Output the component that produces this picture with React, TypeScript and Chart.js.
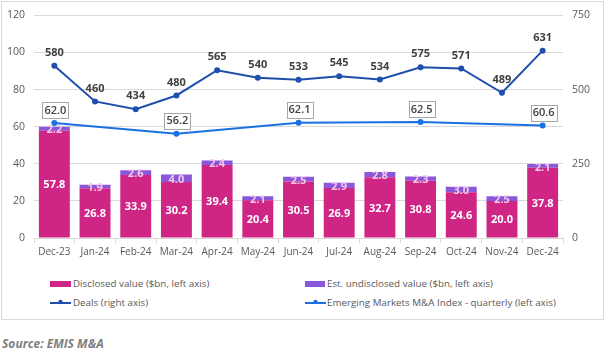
import React, { useEffect, useRef } from "react";
import { Chart, registerables } from "chart.js";

Chart.register(...registerables);

const months = ["Dec-23", "Jan-24", "Feb-24", "Mar-24", "Apr-24", "May-24", "Jun-24", "Jul-24", "Aug-24", "Sep-24", "Oct-24", "Nov-24", "Dec-24"];
const disclosed = [57.8, 26.8, 33.9, 30.2, 39.4, 20.4, 30.5, 26.9, 32.7, 30.8, 24.6, 20.0, 37.8];
const undisclosed = [2.2, 1.9, 2.6, 4.0, 2.4, 2.1, 2.5, 2.9, 2.8, 2.3, 3.0, 2.5, 2.1];
const deals = [580, 460, 434, 480, 565, 540, 533, 545, 534, 575, 571, 489, 631];
const emIndex = [62.0, null, null, 56.2, null, null, 62.1, null, null, 62.5, null, null, 60.6];
const leftTicks = [0, 20, 40, 60, 80, 100, 120];
const rightTicks = [0, 250, 500, 750];

const FONT = "'Open Sans', 'Noto Sans', sans-serif";
const C_DISC = "#cf2585";
const C_UND = "#8a56da";
const C_DEALS = "#1f4fad";
const C_IDX = "#1b70e4";

const labelPlugin = {
  id: "labels",
  afterDatasetsDraw(chart: any) {
    const ctx = chart.ctx;
    ctx.save();
    ctx.textAlign = "center";
    ctx.textBaseline = "middle";
    chart.data.datasets.forEach((ds: any, di: number) => {
      const meta = chart.getDatasetMeta(di);
      meta.data.forEach((el: any, i: number) => {
        const v = ds.data[i];
        if (v === null || v === undefined) return;
        const txt = ds.key === "deals" ? String(v) : v.toFixed(1);
        if (ds.key === "disc") {
          ctx.font = `bold 11px ${FONT}`;
          ctx.fillStyle = "#ffffff";
          ctx.fillText(txt, el.x, (el.y + el.base) / 2 + 1);
        } else if (ds.key === "und") {
          ctx.font = `bold 11px ${FONT}`;
          ctx.fillStyle = "#f6c8ea";
          ctx.fillText(txt, el.x, (el.y + el.base) / 2 + 1.5);
        } else if (ds.key === "deals") {
          ctx.font = `bold 11px ${FONT}`;
          ctx.fillStyle = "#404040";
          ctx.fillText(txt, el.x, el.y - 13);
        } else if (ds.key === "idx") {
          ctx.font = `600 11px ${FONT}`;
          const w = 26, h = 16;
          const cx = el.x + 1, cy = el.y - 13;
          ctx.fillStyle = "#ffffff";
          ctx.fillRect(cx - w / 2, cy - h / 2, w, h);
          ctx.strokeStyle = "#a6a6a6";
          ctx.lineWidth = 1;
          ctx.strokeRect(Math.round(cx - w / 2) + 0.5, Math.round(cy - h / 2) + 0.5, w, h);
          ctx.fillStyle = "#404040";
          ctx.fillText(txt, cx, cy + 0.5);
        }
      });
    });
    ctx.restore();
  },
};

function LineIcon({ color }: { color: string }) {
  return (
    <svg width="21" height="8" style={{ display: "block" }}>
      <line x1="0" y1="5" x2="21" y2="5" stroke={color} strokeWidth="2" />
      <circle cx="10.5" cy="4" r="2.2" fill={color} />
    </svg>
  );
}

export default function App() {
  const ref = useRef<HTMLCanvasElement>(null);
  useEffect(() => {
    const chart = new Chart(ref.current!, {
      type: "bar",
      data: {
        labels: months,
        datasets: [
          {
            key: "deals",
            type: "line",
            label: "Deals (right axis)",
            data: deals,
            yAxisID: "y1",
            borderColor: C_DEALS,
            backgroundColor: C_DEALS,
            borderWidth: 2,
            pointRadius: 3,
            pointBorderWidth: 0,
            tension: 0,
            order: 0,
          } as any,
          {
            key: "idx",
            type: "line",
            label: "Emerging Markets M&A Index - quarterly (left axis)",
            data: emIndex,
            yAxisID: "y",
            stack: "idx",
            borderColor: C_IDX,
            backgroundColor: C_IDX,
            borderWidth: 2,
            pointRadius: 3,
            pointBorderWidth: 0,
            spanGaps: true,
            tension: 0,
            order: 1,
          } as any,
          {
            key: "disc",
            label: "Disclosed value ($bn, left axis)",
            data: disclosed,
            yAxisID: "y",
            stack: "bars",
            backgroundColor: C_DISC,
            categoryPercentage: 1,
            barPercentage: 0.76,
            order: 2,
          } as any,
          {
            key: "und",
            label: "Est. undisclosed value ($bn, left axis)",
            data: undisclosed,
            yAxisID: "y",
            stack: "bars",
            backgroundColor: C_UND,
            categoryPercentage: 1,
            barPercentage: 0.76,
            order: 3,
          } as any,
        ],
      },
      options: {
        animation: false,
        responsive: false,
        maintainAspectRatio: false,
        layout: { padding: { top: 15, left: 0, right: 0, bottom: 0 } },
        plugins: { legend: { display: false }, tooltip: { enabled: false } },
        scales: {
          x: {
            stacked: true,
            offset: true,
            grid: { offset: true, drawOnChartArea: false, drawTicks: true, tickLength: 5, color: "#d9d9d9" },
            border: { display: true, color: "#d9d9d9" },
            ticks: { color: "#595959", font: { family: FONT, size: 10 }, padding: 3, maxRotation: 0, autoSkip: false },
            afterFit: (s: any) => { s.height = 32; },
          },
          y: {
            stacked: true,
            position: "left",
            min: 0,
            max: 120,
            afterBuildTicks: (s: any) => { s.ticks = leftTicks.map((v) => ({ value: v })); },
            grid: { color: "#d9d9d9", drawTicks: false },
            border: { display: false },
            ticks: { color: "#595959", font: { family: FONT, size: 10.5 }, padding: 9 },
            afterFit: (s: any) => { s.width = 34; },
          },
          y1: {
            position: "right",
            min: 0,
            max: 750,
            afterBuildTicks: (s: any) => { s.ticks = rightTicks.map((v) => ({ value: v })); },
            grid: { display: false, drawTicks: false },
            border: { display: false },
            ticks: { color: "#595959", font: { family: FONT, size: 10.5 }, padding: 9 },
            afterFit: (s: any) => { s.width = 42; },
          },
        },
      } as any,
      plugins: [labelPlugin],
    });
    return () => chart.destroy();
  }, []);

  const legendText: React.CSSProperties = {
    position: "absolute",
    fontFamily: FONT,
    fontSize: "9.8px",
    color: "#595959",
    lineHeight: "14px",
    whiteSpace: "nowrap",
  };

  return (
    <div style={{ position: "absolute", left: 0, top: 0, width: 605, height: 350, background: "#fff", overflow: "hidden" }}>
      <div style={{ position: "absolute", left: 1, top: 1, width: 601, height: 317, border: "1px solid #d9d9d9" }} />
      <canvas ref={ref} width={605} height={270} style={{ position: "absolute", left: 0, top: 0, width: 605, height: 270 }} />
      <div style={{ position: "absolute", left: 50, top: 281, width: 21, height: 6, background: C_DISC }} />
      <div style={{ ...legendText, left: 73, top: 277 }}>Disclosed value ($bn, left axis)</div>
      <div style={{ position: "absolute", left: 305, top: 281, width: 20, height: 6, background: C_UND }} />
      <div style={{ ...legendText, left: 327, top: 277 }}>Est. undisclosed value ($bn, left axis)</div>
      <div style={{ position: "absolute", left: 50, top: 298 }}><LineIcon color={C_DEALS} /></div>
      <div style={{ ...legendText, left: 73, top: 296 }}>Deals (right axis)</div>
      <div style={{ position: "absolute", left: 305, top: 298 }}><LineIcon color={C_IDX} /></div>
      <div style={{ ...legendText, left: 327, top: 296 }}>Emerging Markets M&amp;A Index - quarterly (left axis)</div>
      <div style={{ position: "absolute", left: 2, top: 335, fontFamily: FONT, fontSize: "12px", fontWeight: 700, fontStyle: "italic", color: "#808080", whiteSpace: "nowrap" }}>Source: EMIS M&amp;A</div>
    </div>
  );
}
